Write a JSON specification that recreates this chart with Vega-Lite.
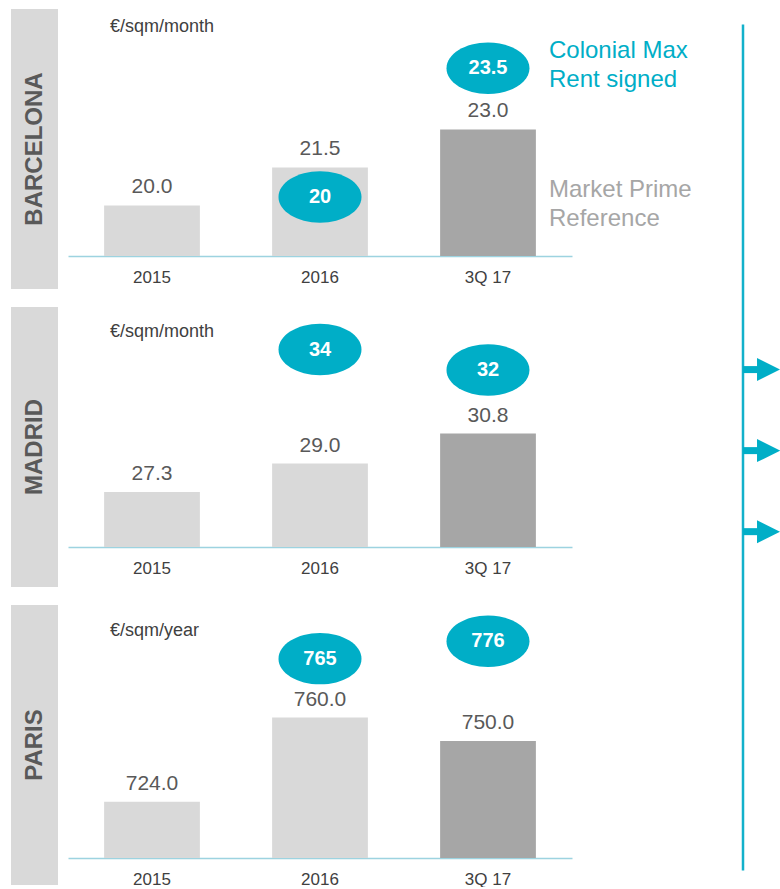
{
  "$schema": "https://vega.github.io/schema/vega-lite/v6.json",
  "padding": {"left": 11, "top": 9, "right": 0, "bottom": 0},
  "background": "white",
  "config": {
    "font": "Liberation Sans",
    "view": {"stroke": null},
    "axisX": {"labelFontSize": 17, "labelColor": "#404040", "labelPadding": 13, "ticks": false, "tickSize": 0, "domainColor": "#9DD3E0", "domainWidth": 1.5, "labelAngle": 0, "grid": false}
  },
  "datasets": {
    "cities": [
      {"city": "Barcelona", "label": "BARCELONA", "unit": "€/sqm/month"},
      {"city": "Madrid", "label": "MADRID", "unit": "€/sqm/month"},
      {"city": "Paris", "label": "PARIS", "unit": "€/sqm/year"}
    ],
    "bars": [
      {"city": "Barcelona", "period": "2015", "rent": 20.0},
      {"city": "Barcelona", "period": "2016", "rent": 21.5},
      {"city": "Barcelona", "period": "3Q 17", "rent": 23.0},
      {"city": "Madrid", "period": "2015", "rent": 27.3},
      {"city": "Madrid", "period": "2016", "rent": 29.0},
      {"city": "Madrid", "period": "3Q 17", "rent": 30.8},
      {"city": "Paris", "period": "2015", "rent": 724.0},
      {"city": "Paris", "period": "2016", "rent": 760.0},
      {"city": "Paris", "period": "3Q 17", "rent": 750.0}
    ],
    "bubbles": [
      {"city": "Barcelona", "period": "2016", "max": 20},
      {"city": "Barcelona", "period": "3Q 17", "max": 23.5},
      {"city": "Madrid", "period": "2016", "max": 34},
      {"city": "Madrid", "period": "3Q 17", "max": 32},
      {"city": "Paris", "period": "2016", "max": 765},
      {"city": "Paris", "period": "3Q 17", "max": 776}
    ],
    "arrows": [{"arrow": 1}, {"arrow": 2}, {"arrow": 3}]
  },
  "hconcat": [
    {
      "spacing": 18,
      "vconcat": [
        {
          "spacing": 10,
          "hconcat": [
            {
              "width": 47, "height": 280,
              "view": {"fill": "#D9D9D9", "stroke": null},
              "data": {"name": "cities"},
              "transform": [{"filter": "datum.city == 'Barcelona'"}],
              "mark": {"type": "text", "angle": 270, "fontSize": 24, "fontWeight": "bold", "color": "#595959", "align": "center", "baseline": "middle"},
              "encoding": {"text": {"field": "label"}}
            },
            {
              "width": 504, "height": 247,
              "resolve": {"scale": {"y": "independent"}},
              "layer": [
                {
                  "data": {"name": "bars"},
                  "transform": [{"filter": "datum.city == 'Barcelona'"}],
                  "encoding": {
                    "x": {"field": "period", "type": "nominal", "title": null, "scale": {"domain": ["2015", "2016", "3Q 17"], "paddingInner": 0.43, "paddingOuter": 0.215}},
                    "y": {"field": "rent", "type": "quantitative", "axis": null, "scale": {"domain": [18, 27.76], "nice": false, "zero": false}}
                  },
                  "layer": [
                    {"mark": {"type": "bar"}, "encoding": {"y2": {"datum": 18}, "color": {"field": "period", "type": "nominal", "legend": null, "scale": {"domain": ["2015", "2016", "3Q 17"], "range": ["#D9D9D9", "#D9D9D9", "#A6A6A6"]}}}},
                    {"mark": {"type": "text", "dy": -12, "baseline": "alphabetic", "fontSize": 21, "color": "#595959"}, "encoding": {"text": {"field": "rent", "format": ".1f"}}},
                    {
                      "transform": [{"filter": "datum.period == '3Q 17'"}],
                      "mark": {"type": "text", "align": "left", "baseline": "alphabetic", "dx": 61, "dy": 4, "fontSize": 24, "lineHeight": 29, "color": "#A6A6A6"},
                      "encoding": {"y": {"datum": 20.5}, "text": {"value": ["Market Prime", "Reference"]}}
                    }
                  ]
                },
                {
                  "data": {"name": "bubbles"},
                  "transform": [{"filter": "datum.city == 'Barcelona'"}],
                  "encoding": {
                    "x": {"field": "period", "type": "nominal", "title": null},
                    "y": {"field": "max", "type": "quantitative", "axis": null, "scale": {"domain": [18.40, 25.11], "nice": false, "zero": false}}
                  },
                  "layer": [
                    {"mark": {"type": "point", "shape": "M-1,0A1,0.62 0 1,1 1,0A1,0.62 0 1,1 -1,0Z", "size": 6889, "filled": true, "opacity": 1, "color": "#00AEC7", "strokeWidth": 0}},
                    {"mark": {"type": "text", "baseline": "middle", "fontSize": 20, "fontWeight": "bold", "color": "white"}, "encoding": {"text": {"field": "max"}}},
                    {
                      "transform": [{"filter": "datum.period == '3Q 17'"}],
                      "mark": {"type": "text", "align": "left", "baseline": "alphabetic", "dx": 61, "dy": -10, "fontSize": 24, "lineHeight": 29, "color": "#00AEC7"},
                      "encoding": {"text": {"value": ["Colonial Max", "Rent signed"]}}
                    }
                  ]
                },
                {
                  "data": {"name": "cities"},
                  "transform": [{"filter": "datum.city == 'Barcelona'"}],
                  "mark": {"type": "text", "align": "left", "baseline": "alphabetic", "dx": -42, "dy": 23, "fontSize": 18, "color": "#404040"},
                  "encoding": {"x": {"datum": "2015"}, "y": {"value": 0}, "text": {"field": "unit"}}
                }
              ]
            }
          ]
        },
        {
          "spacing": 10,
          "hconcat": [
            {
              "width": 47, "height": 280,
              "view": {"fill": "#D9D9D9", "stroke": null},
              "data": {"name": "cities"},
              "transform": [{"filter": "datum.city == 'Madrid'"}],
              "mark": {"type": "text", "angle": 270, "fontSize": 24, "fontWeight": "bold", "color": "#595959", "align": "center", "baseline": "middle"},
              "encoding": {"text": {"field": "label"}}
            },
            {
              "width": 504, "height": 240,
              "resolve": {"scale": {"y": "independent"}},
              "layer": [
                {
                  "data": {"name": "bars"},
                  "transform": [{"filter": "datum.city == 'Madrid'"}],
                  "encoding": {
                    "x": {"field": "period", "type": "nominal", "title": null, "scale": {"domain": ["2015", "2016", "3Q 17"], "paddingInner": 0.43, "paddingOuter": 0.215}},
                    "y": {"field": "rent", "type": "quantitative", "axis": null, "scale": {"domain": [24, 38.39], "nice": false, "zero": false}}
                  },
                  "layer": [
                    {"mark": {"type": "bar"}, "encoding": {"y2": {"datum": 24}, "color": {"field": "period", "type": "nominal", "legend": null, "scale": {"domain": ["2015", "2016", "3Q 17"], "range": ["#D9D9D9", "#D9D9D9", "#A6A6A6"]}}}},
                    {"mark": {"type": "text", "dy": -12, "baseline": "alphabetic", "fontSize": 21, "color": "#595959"}, "encoding": {"text": {"field": "rent", "format": ".1f"}}}
                  ]
                },
                {
                  "data": {"name": "bubbles"},
                  "transform": [{"filter": "datum.city == 'Madrid'"}],
                  "encoding": {
                    "x": {"field": "period", "type": "nominal", "title": null},
                    "y": {"field": "max", "type": "quantitative", "axis": null, "scale": {"domain": [14.73, 38.15], "nice": false, "zero": false}}
                  },
                  "layer": [
                    {"mark": {"type": "point", "shape": "M-1,0A1,0.62 0 1,1 1,0A1,0.62 0 1,1 -1,0Z", "size": 6889, "filled": true, "opacity": 1, "color": "#00AEC7", "strokeWidth": 0}},
                    {"mark": {"type": "text", "baseline": "middle", "fontSize": 20, "fontWeight": "bold", "color": "white"}, "encoding": {"text": {"field": "max"}}}
                  ]
                },
                {
                  "data": {"name": "cities"},
                  "transform": [{"filter": "datum.city == 'Madrid'"}],
                  "mark": {"type": "text", "align": "left", "baseline": "alphabetic", "dx": -42, "dy": 30, "fontSize": 18, "color": "#404040"},
                  "encoding": {"x": {"datum": "2015"}, "y": {"value": 0}, "text": {"field": "unit"}}
                }
              ]
            }
          ]
        },
        {
          "spacing": 10,
          "hconcat": [
            {
              "width": 47, "height": 280,
              "view": {"fill": "#D9D9D9", "stroke": null},
              "data": {"name": "cities"},
              "transform": [{"filter": "datum.city == 'Paris'"}],
              "mark": {"type": "text", "angle": 270, "fontSize": 24, "fontWeight": "bold", "color": "#595959", "align": "center", "baseline": "middle"},
              "encoding": {"text": {"field": "label"}}
            },
            {
              "width": 504, "height": 253,
              "resolve": {"scale": {"y": "independent"}},
              "layer": [
                {
                  "data": {"name": "bars"},
                  "transform": [{"filter": "datum.city == 'Paris'"}],
                  "encoding": {
                    "x": {"field": "period", "type": "nominal", "title": null, "scale": {"domain": ["2015", "2016", "3Q 17"], "paddingInner": 0.43, "paddingOuter": 0.215}},
                    "y": {"field": "rent", "type": "quantitative", "axis": null, "scale": {"domain": [700, 808.1], "nice": false, "zero": false}}
                  },
                  "layer": [
                    {"mark": {"type": "bar"}, "encoding": {"y2": {"datum": 700}, "color": {"field": "period", "type": "nominal", "legend": null, "scale": {"domain": ["2015", "2016", "3Q 17"], "range": ["#D9D9D9", "#D9D9D9", "#A6A6A6"]}}}},
                    {"mark": {"type": "text", "dy": -12, "baseline": "alphabetic", "fontSize": 21, "color": "#595959"}, "encoding": {"text": {"field": "rent", "format": ".1f"}}}
                  ]
                },
                {
                  "data": {"name": "bubbles"},
                  "transform": [{"filter": "datum.city == 'Paris'"}],
                  "encoding": {
                    "x": {"field": "period", "type": "nominal", "title": null},
                    "y": {"field": "max", "type": "quantitative", "axis": null, "scale": {"domain": [639, 798.9], "nice": false, "zero": false}}
                  },
                  "layer": [
                    {"mark": {"type": "point", "shape": "M-1,0A1,0.62 0 1,1 1,0A1,0.62 0 1,1 -1,0Z", "size": 6889, "filled": true, "opacity": 1, "color": "#00AEC7", "strokeWidth": 0}},
                    {"mark": {"type": "text", "baseline": "middle", "fontSize": 20, "fontWeight": "bold", "color": "white"}, "encoding": {"text": {"field": "max"}}}
                  ]
                },
                {
                  "data": {"name": "cities"},
                  "transform": [{"filter": "datum.city == 'Paris'"}],
                  "mark": {"type": "text", "align": "left", "baseline": "alphabetic", "dx": -42, "dy": 31, "fontSize": 18, "color": "#404040"},
                  "encoding": {"x": {"datum": "2015"}, "y": {"value": 0}, "text": {"field": "unit"}}
                }
              ]
            }
          ]
        }
      ]
    },
    {
      "width": 37, "height": 846,
      "layer": [
        {
          "data": {"values": [{"flow": "line"}]},
          "mark": {"type": "rule", "color": "#13B1CB", "strokeWidth": 2.5},
          "encoding": {"x": {"datum": 0, "type": "quantitative", "scale": {"domain": [0, 1]}, "axis": null}}
        },
        {
          "data": {"name": "arrows"},
          "encoding": {
            "y": {"field": "arrow", "type": "quantitative", "axis": null, "scale": {"domain": [-3.26, 7.18], "reverse": true, "nice": false, "zero": false}}
          },
          "layer": [
            {
              "mark": {"type": "rule", "color": "#00AEC7", "strokeWidth": 7},
              "encoding": {"x": {"datum": 0, "type": "quantitative"}, "x2": {"datum": 0.4}}
            },
            {
              "mark": {"type": "point", "shape": "M-1,-1L1,0L-1,1Z", "size": 529, "filled": true, "opacity": 1, "color": "#00AEC7", "strokeWidth": 0},
              "encoding": {"x": {"datum": 0.69, "type": "quantitative"}}
            }
          ]
        }
      ]
    }
  ],
  "spacing": 47,
  "center": true
}
